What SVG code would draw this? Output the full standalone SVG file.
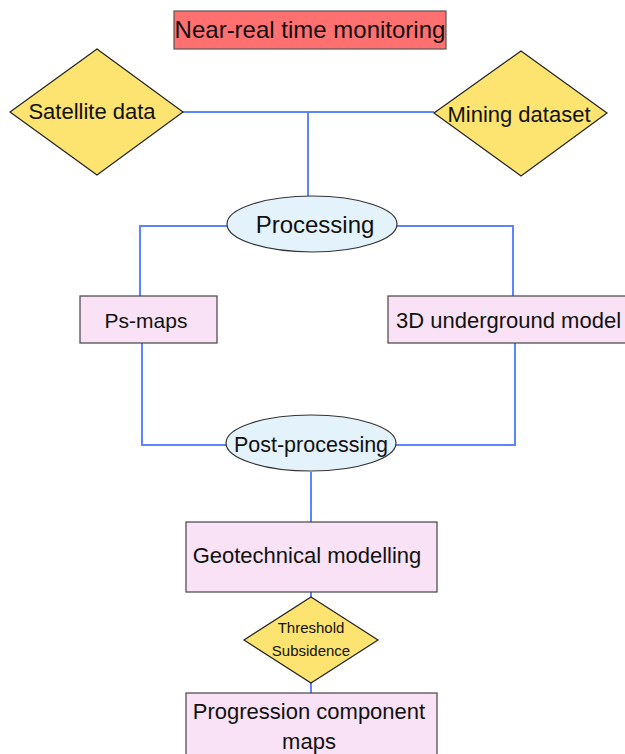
<svg xmlns="http://www.w3.org/2000/svg" width="625" height="754" viewBox="0 0 625 754">
  <style>
    text { font-family: "Liberation Sans", Arial, sans-serif; fill: #111; text-anchor: middle; }
    .box { fill: #f9e2f6; stroke: #444; stroke-width: 1.2; }
    .title { fill: #ff7070; stroke: #555; stroke-width: 1.2; }
    .dia { fill: #fde36f; stroke: #222; stroke-width: 1.2; }
    .ell { fill: #e4f2fb; stroke: #333; stroke-width: 1.2; }
    .wire { fill: none; stroke: #5b84ff; stroke-width: 2; }
  </style>
  <rect width="625" height="754" fill="#ffffff"/>

  <!-- connectors -->
  <g id="connectors">
    <path class="wire" d="M183 112 H434"/>
    <path class="wire" d="M308 112 V196"/>
    <path class="wire" d="M227 226 H140 V296"/>
    <path class="wire" d="M397 226 H513 V296"/>
    <path class="wire" d="M142 343 V445 H227"/>
    <path class="wire" d="M515 343 V445 H396"/>
    <path class="wire" d="M311 472 V522" stroke-width="3"/>
    <path class="wire" d="M311 592 V597"/>
    <path class="wire" d="M311 683 V693"/>
  </g>

  <g id="title">
    <rect class="title" x="174" y="11" width="272" height="38"/>
    <text x="310" y="38" font-size="24">Near-real time monitoring</text>
  </g>

  <g id="satellite">
    <polygon class="dia" points="97,49 183,112 97,175 10,112"/>
    <text x="92" y="119" font-size="22">Satellite data</text>
  </g>

  <g id="mining">
    <polygon class="dia" points="521,51 607,113 521,176 434,113"/>
    <text x="519" y="122" font-size="22">Mining dataset</text>
  </g>

  <g id="processing">
    <ellipse class="ell" cx="312" cy="224" rx="85" ry="28"/>
    <text x="315" y="233" font-size="24">Processing</text>
  </g>

  <g id="psmaps">
    <rect class="box" x="80" y="296" width="137" height="47"/>
    <text x="146" y="328" font-size="21">Ps-maps</text>
  </g>

  <g id="underground">
    <rect class="box" x="388" y="296" width="245" height="47"/>
    <text x="396" y="328" font-size="22" style="text-anchor:start">3D underground model</text>
  </g>

  <g id="postprocessing">
    <ellipse class="ell" cx="311" cy="443" rx="85" ry="28"/>
    <text x="311" y="452" font-size="21.5">Post-processing</text>
  </g>

  <g id="geotechnical">
    <rect class="box" x="186" y="522" width="251" height="70"/>
    <text x="307" y="563" font-size="22">Geotechnical modelling</text>
  </g>

  <g id="threshold">
    <polygon class="dia" points="311,597 378,640 311,683 244,640"/>
    <text x="311" y="633" font-size="15">Threshold</text>
    <text x="311" y="656" font-size="15">Subsidence</text>
  </g>

  <g id="progression">
    <rect class="box" x="186" y="693" width="251" height="70"/>
    <text x="309" y="719" font-size="22">Progression component</text>
    <text x="309" y="749" font-size="22">maps</text>
  </g>
</svg>
